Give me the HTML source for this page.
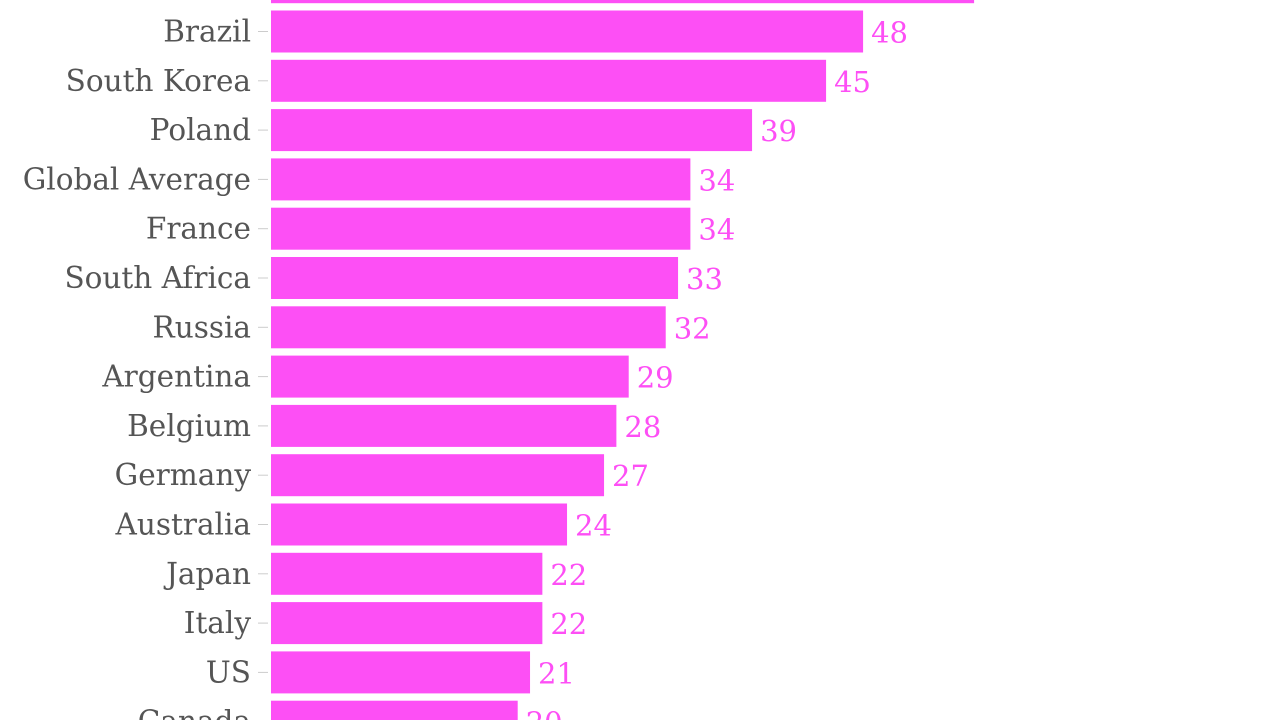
<!DOCTYPE html>
<html><head><meta charset="utf-8">
<style>
html,body{margin:0;padding:0;background:#fff;width:1280px;height:720px;overflow:hidden}
svg{display:block}
text{font-family:"DejaVu Serif","Liberation Serif",serif}
</style></head>
<body>
<svg id="chart" width="1280" height="720"></svg>
<script>
const categories=["Turkey","Brazil","South Korea","Poland","Global Average","France","South Africa","Russia","Argentina","Belgium","Germany","Australia","Japan","Italy","US","Canada"];
const values=[57,48,45,39,34,34,33,32,29,28,27,24,22,22,21,20];
const svg=document.getElementById('chart');
const NS='http://www.w3.org/2000/svg';
const x0=271, pxPerUnit=12.335;
function xScale(v){return x0+v*pxPerUnit;}
const firstCenter=-17.8, step=49.3, barH=42;
function yScale(i){return firstCenter+i*step;}
categories.forEach((c,i)=>{
  const cy=yScale(i);
  const tick=document.createElementNS(NS,'line');
  tick.setAttribute('x1',258);tick.setAttribute('x2',268);
  tick.setAttribute('y1',cy);tick.setAttribute('y2',cy);
  tick.setAttribute('stroke','#ccc');tick.setAttribute('stroke-width',1);
  
  
  svg.appendChild(tick);
  const lab=document.createElementNS(NS,'text');
  lab.setAttribute('x',251);lab.setAttribute('y',cy+10);
  lab.setAttribute('text-anchor','end');lab.setAttribute('font-size','29.5');
  lab.setAttribute('fill','#555');
  lab.textContent=c;
  
  
  svg.appendChild(lab);
  const r=document.createElementNS(NS,'rect');
  r.setAttribute('x',x0);r.setAttribute('y',cy-barH/2);
  r.setAttribute('width',xScale(values[i])-x0);r.setAttribute('height',barH);
  r.setAttribute('fill','#fd4ff5');
  
  
  svg.appendChild(r);
  const vt=document.createElementNS(NS,'text');
  vt.setAttribute('x',xScale(values[i])+8);vt.setAttribute('y',cy+11);
  vt.setAttribute('font-size','29');vt.setAttribute('fill','#fd4ff5');
  vt.textContent=values[i];
  
  
  svg.appendChild(vt);
});
</script>
</body></html>
